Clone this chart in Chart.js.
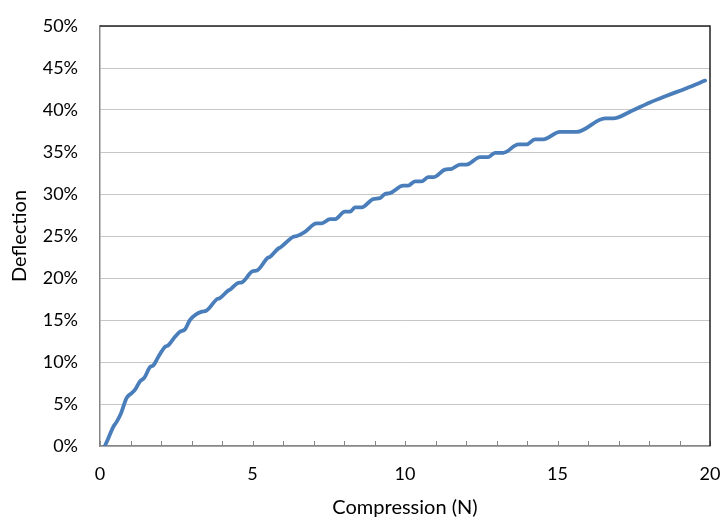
<!DOCTYPE html>
<html>
<head>
<meta charset="utf-8">
<script src="https://cdn.jsdelivr.net/npm/chart.js@4"></script>
<style>
  html, body { margin: 0; padding: 0; background: #fff; }
  #wrap { width: 727px; height: 529px; }
</style>
</head>
<body>
<div id="wrap"><canvas id="graph"></canvas></div>
<script>
// compression (N)
const compression = [0.16, 0.27, 0.44, 0.55, 0.69, 0.87, 1.04, 1.15, 1.31, 1.45, 1.64, 1.75, 1.91, 2.13, 2.24, 2.46, 2.62, 2.79, 2.95, 3.34, 3.48, 3.84, 3.93, 4.2, 4.26, 4.52, 4.66, 5.0, 5.15, 5.5, 5.57, 5.84, 5.9, 6.33, 6.46, 6.72, 7.1, 7.27, 7.54, 7.7, 8.03, 8.2, 8.36, 8.58, 8.96, 9.18, 9.34, 9.51, 9.94, 10.1, 10.33, 10.54, 10.76, 10.93, 11.31, 11.53, 11.8, 12.02, 12.46, 12.73, 12.95, 13.22, 13.72, 13.99, 14.26, 14.53, 15.08, 15.63, 16.56, 16.83, 17.38, 18.03, 18.58, 19.23, 19.84];
// deflection (%)
const deflection = [0, 0.9, 2.3, 2.9, 3.9, 5.7, 6.3, 6.7, 7.7, 8.1, 9.4, 9.6, 10.6, 11.8, 12.0, 13.0, 13.6, 13.9, 15.0, 16.0, 16.1, 17.5, 17.6, 18.5, 18.6, 19.4, 19.5, 20.8, 20.9, 22.4, 22.5, 23.5, 23.6, 24.9, 25.0, 25.5, 26.5, 26.5, 27.0, 27.0, 27.9, 27.9, 28.4, 28.4, 29.4, 29.5, 30.0, 30.1, 31.0, 31.0, 31.5, 31.5, 32.0, 32.0, 32.9, 33.0, 33.5, 33.5, 34.4, 34.4, 34.9, 34.9, 35.9, 35.9, 36.5, 36.5, 37.4, 37.4, 39.0, 39.0, 39.8, 40.9, 41.7, 42.6, 43.5];
const xLabels = [0, 5, 10, 15, 20];

const points = compression.map((x, i) => ({x: x, y: deflection[i]}));

// top/right frame + small inside tick marks on the x axis
const frame = {
    id: "frame",
    afterDraw(chart) {
        const {ctx, chartArea: a, scales} = chart;
        ctx.save();
        ctx.strokeStyle = "#868686";
        ctx.lineWidth = 1;
        scales.x.ticks.forEach(t => {
            const px = Math.round(scales.x.getPixelForValue(t.value)) + 0.5;
            ctx.beginPath();
            ctx.moveTo(px, a.bottom);
            ctx.lineTo(px, a.bottom - 5);
            ctx.stroke();
        });
        ctx.strokeStyle = "#222";
        ctx.lineWidth = 1.5;
        ctx.beginPath();
        ctx.moveTo(a.left, a.top);
        ctx.lineTo(a.right, a.top);
        ctx.lineTo(a.right, a.bottom);
        ctx.stroke();
        ctx.restore();
    }
};

const chart = new Chart(document.getElementById("graph"), {
    type: "line",
    data: {
        datasets: [{
            label: "Deflection",
            data: points,
            borderColor: "#4a7ebb",
            borderWidth: 3.8,
            pointRadius: 0,
            cubicInterpolationMode: "monotone",
            borderCapStyle: "round",
            fill: false,
        }],
    },
    options: {
        responsive: true,
        maintainAspectRatio: false,
        animation: false,
        layout: {padding: {left: 0, right: 17, top: 26, bottom: 0}},
        plugins: {legend: {display: false}, tooltip: {enabled: false}},
        scales: {
            x: {
                type: "linear",
                min: 0,
                max: 20,
                afterFit: s => { s.height = 83; s.paddingLeft = 0; s.paddingRight = 0; },
                ticks: {
                    stepSize: 1,
                    autoSkip: false,
                    maxRotation: 0,
                    padding: 17,
                    color: "#000",
                    font: {family: "Lato", size: 18},
                    callback: v => xLabels.includes(v) ? String(v) : "",
                },
                grid: {drawOnChartArea: false, drawTicks: false},
                border: {color: "#868686", width: 1.5},
                title: {
                    display: true,
                    text: "Compression (N)",
                    color: "#000",
                    font: {family: "Lato", size: 20},
                    padding: {top: 0, bottom: 9},
                },
            },
            y: {
                min: 0,
                max: 50,
                afterFit: s => { s.width = 100; s.paddingTop = 0; s.paddingBottom = 0; },
                ticks: {
                    stepSize: 5,
                    padding: 22,
                    color: "#000",
                    font: {family: "Lato", size: 18},
                    callback: v => v + "%",
                },
                grid: {color: "#c6c6c6", lineWidth: 1, drawTicks: false},
                border: {color: "#868686", width: 1.5},
                title: {
                    display: true,
                    text: "Deflection",
                    color: "#000",
                    font: {family: "Lato", size: 20},
                    padding: {top: 8, bottom: 0},
                },
            },
        },
    },
    plugins: [frame],
});
</script>
</body>
</html>
